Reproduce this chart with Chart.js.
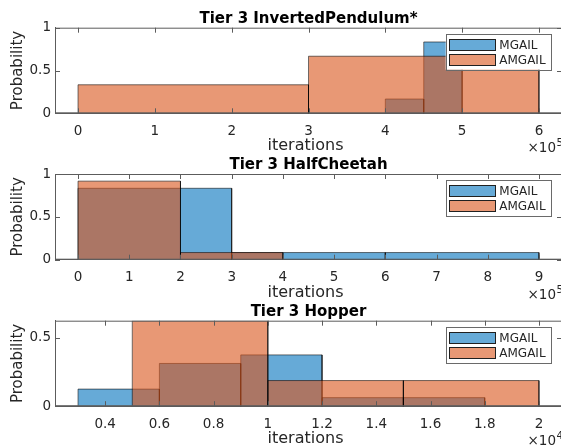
<!DOCTYPE html>
<html><head><meta charset="utf-8">
<script src="https://cdn.jsdelivr.net/npm/chart.js@4/dist/chart.umd.min.js"></script>
<style>
html,body{margin:0;padding:0;width:561px;height:447px;overflow:hidden;background:#fff}
canvas{position:absolute;left:0;top:0}
</style></head>
<body>
<canvas id="c1" width="562" height="447"></canvas>
<canvas id="c2" width="562" height="447"></canvas>
<canvas id="c3" width="562" height="447"></canvas>
<script>
// ---- data ----
const seriesNames = ['MGAIL', 'AMGAIL'];
const xAxisLabel = 'iterations';
const yAxisLabel = 'Probability';

const pendTitle = 'Tier 3 InvertedPendulum*';
const pendMgailEdges = [400000, 450000, 500000];
const pendMgailProb = [0.1667, 0.8333];
const pendAmgailEdges = [0, 300000, 600000];
const pendAmgailProb = [0.3333, 0.6667];
const pendXTicks = [0, 100000, 200000, 300000, 400000, 500000, 600000];
const pendXTickLabels = ['0', '1', '2', '3', '4', '5', '6'];
const pendYTicks = [0, 0.5, 1];
const pendYTickLabels = ['0', '0.5', '1'];
const pendExponent = '5';

const cheetahTitle = 'Tier 3 HalfCheetah';
const cheetahMgailEdges = [0, 300000, 600000, 900000];
const cheetahMgailProb = [0.8333, 0.0833, 0.0833];
const cheetahAmgailEdges = [0, 200000, 400000];
const cheetahAmgailProb = [0.9167, 0.0833];
const cheetahXTicks = [0, 100000, 200000, 300000, 400000, 500000, 600000, 700000, 800000, 900000];
const cheetahXTickLabels = ['0', '1', '2', '3', '4', '5', '6', '7', '8', '9'];
const cheetahYTicks = [0, 0.5, 1];
const cheetahYTickLabels = ['0', '0.5', '1'];
const cheetahExponent = '5';

const hopperTitle = 'Tier 3 Hopper';
const hopperMgailEdges = [3000, 6000, 9000, 12000, 15000, 18000];
const hopperMgailProb = [0.125, 0.3125, 0.375, 0.0625, 0.0625];
const hopperAmgailEdges = [5000, 10000, 15000, 20000];
const hopperAmgailProb = [0.625, 0.1875, 0.1875];
const hopperXTicks = [4000, 6000, 8000, 10000, 12000, 14000, 16000, 18000, 20000];
const hopperXTickLabels = ['0.4', '0.6', '0.8', '1', '1.2', '1.4', '1.6', '1.8', '2'];
const hopperYTicks = [0, 0.5];
const hopperYTickLabels = ['0', '0.5'];
const hopperExponent = '4';

// ---- style ----
const FAM = '"DejaVu Sans", sans-serif';
const AX = '#262626';
const AXLINE = '#5c5c5c';
const FILLS = ['rgba(0,114,189,0.6)', 'rgba(217,83,25,0.6)'];
const EDGE = 'rgba(0,0,0,0.55)';
const H = 447;

function binPoints(edges, probs) {
  const pts = [];
  for (let i = 0; i < probs.length; i++) {
    pts.push({x: edges[i], y: 0}, {x: edges[i], y: probs[i]},
             {x: edges[i + 1], y: probs[i]}, {x: edges[i + 1], y: 0},
             {x: edges[i + 1], y: null});
  }
  return pts;
}

const decor = {
  id: 'decor',
  afterDraw(chart, args, o) {
    const ctx = chart.ctx;
    const {left, right, top, bottom} = chart.chartArea;
    const xs = chart.scales.x, ys = chart.scales.y;
    ctx.save();
    // box + inward ticks
    ctx.strokeStyle = AXLINE;
    ctx.lineWidth = 1;
    ctx.beginPath();
    ctx.moveTo(left, top + 0.5); ctx.lineTo(right, top + 0.5);
    ctx.moveTo(right - 0.5, top); ctx.lineTo(right - 0.5, bottom);
    ctx.moveTo(left + 0.5, top); ctx.lineTo(left + 0.5, bottom);
    ctx.moveTo(left, bottom - 0.5); ctx.lineTo(right, bottom - 0.5);
    o.xticks.forEach(v => {
      const px = Math.round(xs.getPixelForValue(v)) + 0.5;
      ctx.moveTo(px, bottom); ctx.lineTo(px, bottom - 5);
      ctx.moveTo(px, top); ctx.lineTo(px, top + 5);
    });
    o.yticks.forEach(v => {
      const py = Math.round(ys.getPixelForValue(v)) + 0.5;
      ctx.moveTo(left, py); ctx.lineTo(left + 5, py);
      ctx.moveTo(right, py); ctx.lineTo(right - 5, py);
    });
    ctx.stroke();
    // title
    ctx.fillStyle = '#000';
    ctx.font = 'bold 15px ' + FAM;
    ctx.textAlign = 'center';
    ctx.textBaseline = 'alphabetic';
    ctx.fillText(o.title, (left + right) / 2, top - 5);
    // x axis label
    ctx.fillStyle = AX;
    ctx.font = '16px ' + FAM;
    ctx.fillText(xAxisLabel, (left + right) / 2 - 3, bottom + 37);
    // exponent
    ctx.textAlign = 'left';
    ctx.font = '13.5px ' + FAM;
    const ex = 527.5, ey = bottom + 39;
    ctx.fillText('\u00d710', ex, ey);
    const w = ctx.measureText('\u00d710').width;
    ctx.font = '10.5px ' + FAM;
    ctx.fillText(o.exponent, ex + w + 0.5, ey - 6);
    // legend
    const lr = right - 11.7, lw = 104.6, lt = top + 6.3, lh = 35.7, ll = lr - lw;
    ctx.fillStyle = '#fff';
    ctx.fillRect(ll, lt, lw, lh);
    ctx.strokeStyle = '#6a6a6a';
    ctx.strokeRect(Math.round(ll) + 0.5, Math.round(lt) + 0.5, Math.round(lw), Math.round(lh));
    ctx.font = '12px ' + FAM;
    ctx.textBaseline = 'middle';
    chart.data.datasets.forEach((ds, i) => {
      const sy = Math.round(lt + 4.7 + i * 15.3);
      const sx = Math.round(ll + 3.6);
      ctx.fillStyle = ds.backgroundColor;
      ctx.fillRect(sx, sy, 47, 12);
      ctx.strokeStyle = '#202020';
      ctx.strokeRect(sx + 0.5, sy + 0.5, 46, 11);
      ctx.fillStyle = AX;
      ctx.fillText(ds.label, ll + 53.6, sy + 6.5);
    });
    ctx.restore();
  }
};

function makeChart(id, p) {
  return new Chart(document.getElementById(id), {
    type: 'line',
    data: {
      datasets: [
        {label: seriesNames[0], data: binPoints(p.e1, p.v1), order: 1},
        {label: seriesNames[1], data: binPoints(p.e2, p.v2), order: 0}
      ].map((d, i) => Object.assign(d, {
        backgroundColor: FILLS[i], borderColor: EDGE, borderWidth: 1,
        fill: 'origin', pointRadius: 0, tension: 0, spanGaps: false
      }))
    },
    options: {
      responsive: false, animation: false, devicePixelRatio: 1,
      layout: {padding: {left: 0, right: 0, top: p.top, bottom: H - p.bottom - 40}},
      plugins: {
        legend: {display: false}, tooltip: {enabled: false}, title: {display: false},
        decor: {title: p.title, exponent: p.exponent, xticks: p.xticks, yticks: p.yticks}
      },
      scales: {
        x: {
          type: 'linear', min: p.xmin, max: p.xmax,
          grid: {display: false, drawTicks: false}, border: {display: true, color: AXLINE},
          afterBuildTicks: s => { s.ticks = p.xticks.map(v => ({value: v})); },
          afterFit: s => { s.height = 40; },
          ticks: {autoSkip: false, maxRotation: 0, padding: 10, color: AX,
                  font: {family: FAM, size: 13.5}, callback: (v, i) => p.xlabels[i]},
          title: {display: false}
        },
        y: {
          type: 'linear', min: 0, max: p.ymax,
          grid: {display: false, drawTicks: false}, border: {display: true, color: AXLINE},
          afterBuildTicks: s => { s.ticks = p.yticks.map(v => ({value: v})); },
          afterFit: s => { s.width = 55; },
          ticks: {autoSkip: false, padding: 4, color: AX,
                  font: {family: FAM, size: 13.5}, callback: (v, i) => p.ylabels[i]},
          title: {display: true, text: yAxisLabel, color: AX, font: {family: FAM, size: 15},
                  padding: {top: 9, bottom: 0}}
        }
      }
    },
    plugins: [decor]
  });
}

makeChart('c1', {title: pendTitle, exponent: pendExponent,
  e1: pendMgailEdges, v1: pendMgailProb, e2: pendAmgailEdges, v2: pendAmgailProb,
  xticks: pendXTicks, xlabels: pendXTickLabels, yticks: pendYTicks, ylabels: pendYTickLabels,
  xmin: -30000, xmax: 630000, ymax: 1, top: 27.7, bottom: 113.3});
makeChart('c2', {title: cheetahTitle, exponent: cheetahExponent,
  e1: cheetahMgailEdges, v1: cheetahMgailProb, e2: cheetahAmgailEdges, v2: cheetahAmgailProb,
  xticks: cheetahXTicks, xlabels: cheetahXTickLabels, yticks: cheetahYTicks, ylabels: cheetahYTickLabels,
  xmin: -45000, xmax: 945000, ymax: 1, top: 174, bottom: 259.7});
makeChart('c3', {title: hopperTitle, exponent: hopperExponent,
  e1: hopperMgailEdges, v1: hopperMgailProb, e2: hopperAmgailEdges, v2: hopperAmgailProb,
  xticks: hopperXTicks, xlabels: hopperXTickLabels, yticks: hopperYTicks, ylabels: hopperYTickLabels,
  xmin: 2150, xmax: 20850, ymax: 0.625, top: 320.7, bottom: 406.2});
</script>
</body></html>
